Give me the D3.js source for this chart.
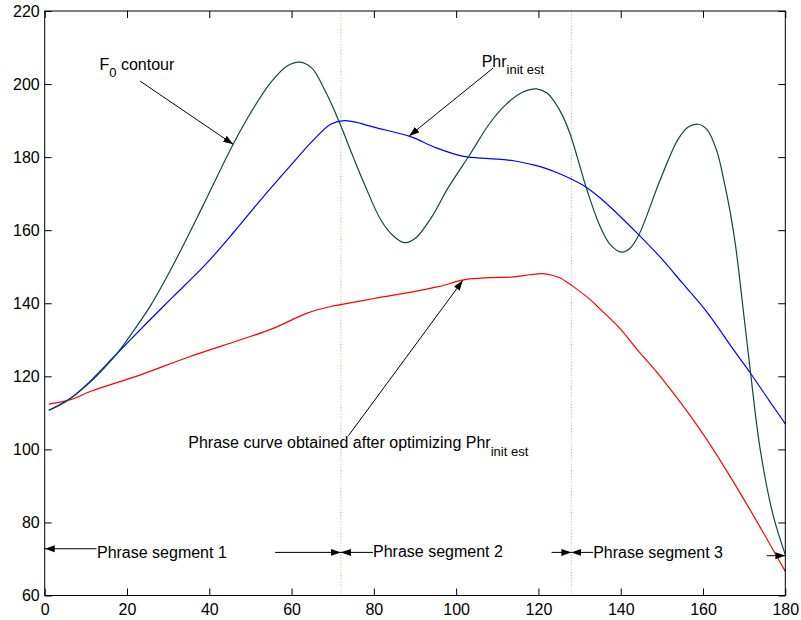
<!DOCTYPE html>
<html>
<head>
<meta charset="utf-8">
<script src="https://cdn.jsdelivr.net/npm/d3@7"></script>
<style>
  html, body { margin: 0; padding: 0; background: #fff; }
  svg { display: block; }
  text { font-family: "Liberation Sans", Arial, Helvetica, sans-serif; }
</style>
</head>
<body>
<svg id="chart" width="801" height="620"></svg>
<script>
// ---------------- data ----------------
const xTickValues = [0, 20, 40, 60, 80, 100, 120, 140, 160, 180];
const yTickValues = [60, 80, 100, 120, 140, 160, 180, 200, 220];

// F0 contour
const f0X = [1, 5, 10, 17.3, 21, 25.8, 31, 38.6, 45.8, 50, 55, 59, 62, 65, 68, 70, 72, 75, 77.6, 81.6, 84.5, 87.4, 90, 94, 98, 103.5, 108, 112, 116, 119.5, 122, 124, 125.8, 127.8, 131.8, 135, 137.5, 140.3, 142.2, 144.4, 149.6, 154, 156.5, 158.9, 161, 163.4, 165, 166.6, 168, 169.9, 171.5, 173.9, 177.1, 180];
const f0Y = [110.7, 113, 117.3, 125.9, 131.5, 139.5, 150, 167, 183.5, 192, 200.5, 205, 206, 204.3, 198.5, 193.8, 188.5, 180, 172.9, 163, 158.7, 156.6, 157.7, 163.5, 171.5, 181, 189, 194.3, 197.7, 198.7, 197.6, 195, 191.5, 186, 171, 161, 156, 154, 155, 158.7, 173.8, 185, 188.3, 189, 187.5, 181.5, 174, 165, 155, 137, 121.5, 100, 81.7, 71.2];

// Phr init est
const phrInitX = [1, 6.3, 10, 17.3, 25, 31.4, 39.4, 46, 52.5, 60, 65, 69.5, 72.7, 75, 80, 88.9, 95, 101.8, 108, 114, 119, 122.1, 125.3, 128, 131.4, 134.5, 137.4, 144.4, 149.6, 155, 161, 167.4, 171.5, 176, 180];
const phrInitY = [110.7, 114, 117.5, 125.9, 134.8, 142, 151, 159.5, 168.3, 178, 184.3, 189, 190, 189.7, 188.2, 185.6, 182.6, 180.2, 179.6, 179, 177.8, 176.8, 175.4, 174, 171.9, 169.3, 166.4, 158.7, 152.6, 145.5, 137.5, 127.3, 120.9, 113.5, 107];

// Phrase curve obtained after optimizing
const phrOptX = [1, 6.3, 11.2, 23.3, 35, 47.6, 55.7, 63.8, 69.5, 71.9, 80, 89.7, 96, 101.8, 108, 114, 118, 120.9, 123.5, 125.3, 127.8, 132.6, 135, 139.9, 144, 149.6, 159.3, 169, 180];
const phrOptY = [112.4, 113.6, 115.9, 120.4, 125.3, 130, 133.2, 137.3, 139.1, 139.6, 141.3, 143.2, 144.6, 146.4, 147, 147.2, 147.8, 148.1, 147.6, 146.9, 145.1, 141, 138.4, 133, 127.3, 120, 105.4, 88.1, 66.6];

// segment boundaries
const boundaries = [72, 128];

// ---------------- layout ----------------
const L = 44.7, R = 785.3, T = 11, B = 595.5;
const svg = d3.select("#chart");
const x = d3.scaleLinear().domain([0, 180]).range([L, R]);
const y = d3.scaleLinear().domain([60, 220]).range([B, T]);

// marker
const defs = svg.append("defs");
defs.append("marker")
  .attr("id", "ah").attr("markerUnits", "userSpaceOnUse")
  .attr("viewBox", "0 -4 10 8").attr("refX", 10).attr("refY", 0)
  .attr("markerWidth", 10).attr("markerHeight", 8).attr("orient", "auto")
  .append("path").attr("d", "M0,-3.5L10,0L0,3.5Z").attr("fill", "#000");

// dotted multicolour vertical lines
const dotColors = ["#b4b4ff", "#ffb4b4", "#a8dca8", "#ecec90", "#98ecec", "#f0b0f0", "#a8a8a8"];
boundaries.forEach(b => {
  dotColors.forEach((c, i) => {
    svg.append("line")
      .attr("x1", x(b)).attr("x2", x(b)).attr("y1", T).attr("y2", B)
      .attr("stroke", c).attr("stroke-width", 1)
      .attr("stroke-dasharray", `1.5 ${dotColors.length * 3 - 1.5}`)
      .attr("stroke-dashoffset", -i * 3);
  });
});

// curves
const line = d3.line().x(d => x(d[0])).y(d => y(d[1])).curve(d3.curveCatmullRom.alpha(0.5));
function drawSeries(xs, ys, color) {
  svg.append("path")
    .datum(xs.map((v, i) => [v, ys[i]]))
    .attr("d", line).attr("fill", "none")
    .attr("stroke", color).attr("stroke-width", 1.2);
}
drawSeries(phrOptX, phrOptY, "#ff0000");
drawSeries(phrInitX, phrInitY, "#0000ff");
drawSeries(f0X, f0Y, "#0f4747");

// axes
const fs = 16;
const gB = svg.append("g").attr("transform", `translate(0,${B})`)
  .call(d3.axisBottom(x).tickValues(xTickValues).tickSize(-7).tickPadding(8).tickFormat(d3.format("d")));
const gL = svg.append("g").attr("transform", `translate(${L},0)`)
  .call(d3.axisLeft(y).tickValues(yTickValues).tickSize(-7).tickPadding(5).tickFormat(d3.format("d")));
const gT = svg.append("g").attr("transform", `translate(0,${T})`)
  .call(d3.axisTop(x).tickValues(xTickValues).tickSize(-7).tickFormat(""));
const gR = svg.append("g").attr("transform", `translate(${R},0)`)
  .call(d3.axisRight(y).tickValues(yTickValues).tickSize(-7).tickFormat(""));
[gB, gL, gT, gR].forEach(g => {
  g.select(".domain").remove();
  g.selectAll("line").attr("stroke", "#000");
  g.selectAll("text").attr("fill", "#000").style("font-size", fs + "px")
    .style("font-family", '"Liberation Sans", Arial, sans-serif');
});
svg.append("rect").attr("x", L).attr("y", T).attr("width", R - L).attr("height", B - T)
  .attr("fill", "none").attr("stroke", "#000").attr("stroke-width", 1);

// annotations
function arrow(x1, y1, x2, y2) {
  svg.append("line")
    .attr("x1", x(x1)).attr("y1", y(y1)).attr("x2", x(x2)).attr("y2", y(y2))
    .attr("stroke", "#000").attr("stroke-width", 1)
    .attr("marker-end", "url(#ah)");
}
function label(xv, yv, main, sub, tail) {
  const t = svg.append("text").attr("x", x(xv)).attr("y", y(yv))
    .style("font-size", fs + "px").attr("fill", "#000");
  t.append("tspan").text(main);
  if (sub) {
    t.append("tspan").text(sub).style("font-size", "13px").attr("dy", 7.6);
    if (tail) t.append("tspan").text(tail).style("font-size", fs + "px").attr("dy", -7.6);
  }
}

label(13.3, 203.9, "F", "0", " contour");
arrow(23.2, 200.8, 45.8, 183.5);

label(106.2, 204.8, "Phr", "init est");
arrow(109, 204.4, 88.6, 185.8);

label(34.9, 100.3, "Phrase curve obtained after optimizing Phr", "init est");
arrow(73.8, 103.7, 101.6, 146.2);

// phrase segments
label(12.7, 70.3, "Phrase segment 1");
arrow(12.6, 72.8, 0, 72.8);
arrow(56, 71.8, 72, 71.8);
label(79.8, 70.6, "Phrase segment 2");
arrow(79.8, 71.8, 72, 71.8);
arrow(123.2, 71.8, 128, 71.8);
label(133.3, 70.2, "Phrase segment 3");
arrow(133.3, 71.8, 128, 71.8);
arrow(175.5, 70.9, 180, 70.9);
</script>
</body>
</html>
